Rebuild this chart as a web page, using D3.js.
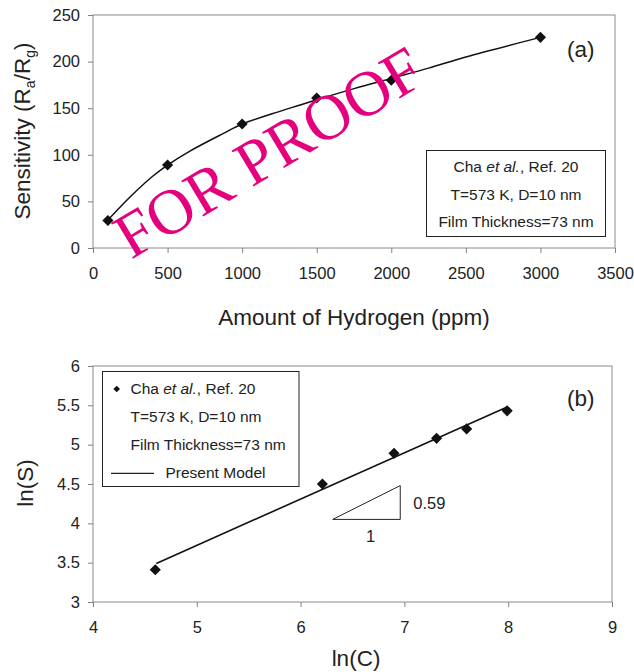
<!DOCTYPE html>
<html>
<head>
<meta charset="utf-8">
<script src="https://d3js.org/d3.v7.min.js"></script>
<style>
  body { margin: 0; background: #fff; }
  svg { display: block; font-family: Arial, "Liberation Sans", sans-serif; }
  .tick line { stroke: #808080; }
  .tick text { font-size: 16.5px; fill: #222; }
</style>
</head>
<body>
<div id="chart"></div>
<script>
//PANEL (a) DATA - SENSITIVITY VS HYDROGEN
var hydrogenPpm = [100, 500, 1000, 1500, 2000, 3000];
var sensitivity = [29.5, 89, 133, 161, 180, 226];
var curvePpm = [100, 250, 400, 500, 650, 875, 1000, 1200, 1400, 1500, 1750, 2000, 2250, 2500, 3000];
var curveSens = [30, 55, 77, 89, 104, 123, 133, 144, 154, 159, 171, 182, 193, 205, 226];
var ppmTicks = [0, 500, 1000, 1500, 2000, 2500, 3000, 3500];
var sensTicks = [0, 50, 100, 150, 200, 250];

//PANEL (b) DATA - LN-LN
var lnC = [4.6, 6.21, 6.9, 7.31, 7.6, 7.99];
var lnS = [3.41, 4.5, 4.89, 5.08, 5.2, 5.43];
var modelLnC = [4.61, 7.99];
var modelLnS = [3.49, 5.48];
var lnCTicks = [4, 5, 6, 7, 8, 9];
var lnSTicks = [3, 3.5, 4, 4.5, 5, 5.5, 6];
var slopeTriC = [6.31, 6.96];
var slopeTriS = [4.05, 4.48];

//LEGEND TEXT
var legendLines = ["T=573 K, D=10 nm", "Film Thickness=73 nm"];

var width = 634, height = 672;
var svg = d3.select("#chart").append("svg")
  .attr("width", width)
  .attr("height", height);

//DIAMOND MARKER
var diamond = d3.symbol().type(d3.symbolSquare).size(62);
var smallDiamond = d3.symbol().type(d3.symbolSquare).size(22);

function frame(g, x0, x1, y0, y1) {
  g.append("rect")
    .attr("x", x0).attr("y", y0)
    .attr("width", x1 - x0).attr("height", y1 - y0)
    .attr("fill", "none")
    .attr("stroke", "#8a8a8a")
    .attr("stroke-width", 1);
}

// ---------------- PANEL (a) ----------------
var ax = d3.scaleLinear().domain([0, 3500]).range([93, 615]);
var ay = d3.scaleLinear().domain([0, 250]).range([248, 15]);
var gA = svg.append("g");

frame(gA, 93, 615, 15, 248);

gA.append("g")
  .attr("transform", "translate(0,248)")
  .call(d3.axisBottom(ax).tickValues(ppmTicks).tickSize(5).tickPadding(14).tickFormat(d3.format("d")))
  .call(function(g){ g.select(".domain").remove(); });

gA.append("g")
  .attr("transform", "translate(93,0)")
  .call(d3.axisLeft(ay).tickValues(sensTicks).tickSize(5).tickPadding(8).tickFormat(d3.format("d")))
  .call(function(g){ g.select(".domain").remove(); });

var curveA = curvePpm.map(function(d, i){ return [d, curveSens[i]]; });
gA.append("path")
  .datum(curveA)
  .attr("fill", "none")
  .attr("stroke", "#111")
  .attr("stroke-width", 1.5)
  .attr("d", d3.line()
    .x(function(d){ return ax(d[0]); })
    .y(function(d){ return ay(d[1]); })
    .curve(d3.curveCatmullRom.alpha(0.5)));

gA.selectAll(".pt")
  .data(hydrogenPpm)
  .enter()
  .append("path")
  .attr("d", diamond)
  .attr("fill", "#111")
  .attr("transform", function(d, i){
    return "translate(" + ax(d) + "," + ay(sensitivity[i]) + ") rotate(45)";
  });

gA.append("text")
  .attr("x", 567).attr("y", 57)
  .style("font-size", "22.5px").attr("fill", "#222")
  .text("(a)");

//LEGEND BOX (a)
gA.append("rect")
  .attr("x", 426.5).attr("y", 150.5)
  .attr("width", 179).attr("height", 86)
  .attr("fill", "#fff").attr("stroke", "#222").attr("stroke-width", 1);

var l1 = gA.append("text")
  .attr("x", 516).attr("y", 172)
  .attr("text-anchor", "middle")
  .style("font-size", "15.5px").attr("fill", "#222");
l1.append("tspan").text("Cha ");
l1.append("tspan").style("font-style", "italic").text("et al.");
l1.append("tspan").text(", Ref. 20");

gA.selectAll(".leg")
  .data(legendLines)
  .enter()
  .append("text")
  .attr("x", 516)
  .attr("y", function(d, i){ return 199.5 + i * 27.5; })
  .attr("text-anchor", "middle")
  .style("font-size", "15.5px").attr("fill", "#222")
  .text(function(d){ return d; });

//AXIS TITLES (a)
gA.append("text")
  .attr("x", 354).attr("y", 325)
  .attr("text-anchor", "middle")
  .style("font-size", "22.5px").attr("fill", "#222")
  .text("Amount of Hydrogen (ppm)");

var yt = gA.append("text")
  .attr("transform", "translate(29.5,131) rotate(-90)")
  .attr("text-anchor", "middle")
  .style("font-size", "22.5px").attr("fill", "#222");
yt.append("tspan").text("Sensitivity (R");
yt.append("tspan").attr("dy", 5).style("font-size", "14px").text("a");
yt.append("tspan").attr("dy", -5).text("/R");
yt.append("tspan").attr("dy", 5).style("font-size", "14px").text("g");
yt.append("tspan").attr("dy", -5).text(")");

// ---------------- PANEL (b) ----------------
var bx = d3.scaleLinear().domain([4, 9]).range([93, 612]);
var by = d3.scaleLinear().domain([3, 6]).range([602, 366]);
var gB = svg.append("g");

frame(gB, 93, 612, 366, 602);

gB.append("g")
  .attr("transform", "translate(0,602)")
  .call(d3.axisBottom(bx).tickValues(lnCTicks).tickSize(5).tickPadding(14).tickFormat(d3.format("d")))
  .call(function(g){ g.select(".domain").remove(); });

gB.append("g")
  .attr("transform", "translate(93,0)")
  .call(d3.axisLeft(by).tickValues(lnSTicks).tickSize(5).tickPadding(8).tickFormat(d3.format("")))
  .call(function(g){ g.select(".domain").remove(); });

var modelB = modelLnC.map(function(d, i){ return [d, modelLnS[i]]; });
gB.append("path")
  .datum(modelB)
  .attr("fill", "none")
  .attr("stroke", "#111")
  .attr("stroke-width", 1.6)
  .attr("d", d3.line()
    .x(function(d){ return bx(d[0]); })
    .y(function(d){ return by(d[1]); }));

gB.selectAll(".pt")
  .data(lnC)
  .enter()
  .append("path")
  .attr("d", diamond)
  .attr("fill", "#111")
  .attr("transform", function(d, i){
    return "translate(" + bx(d) + "," + by(lnS[i]) + ") rotate(45)";
  });

//SLOPE TRIANGLE
gB.append("path")
  .attr("fill", "none")
  .attr("stroke", "#222")
  .attr("stroke-width", 1)
  .attr("d", "M" + bx(slopeTriC[0]) + "," + by(slopeTriS[0]) +
             "L" + bx(slopeTriC[1]) + "," + by(slopeTriS[0]) +
             "L" + bx(slopeTriC[1]) + "," + by(slopeTriS[1]) + "Z");

gB.append("text")
  .attr("x", bx(slopeTriC[1]) + 13).attr("y", 508.5)
  .style("font-size", "16.5px").attr("fill", "#222")
  .text("0.59");

gB.append("text")
  .attr("x", (bx(slopeTriC[0]) + bx(slopeTriC[1])) / 2 + 4).attr("y", 542)
  .attr("text-anchor", "middle")
  .style("font-size", "16.5px").attr("fill", "#222")
  .text("1");

gB.append("text")
  .attr("x", 567).attr("y", 406)
  .style("font-size", "22.5px").attr("fill", "#222")
  .text("(b)");

//LEGEND BOX (b)
gB.append("rect")
  .attr("x", 102.5).attr("y", 371.5)
  .attr("width", 196.5).attr("height", 115)
  .attr("fill", "#fff").attr("stroke", "#222").attr("stroke-width", 1);

gB.append("path")
  .attr("d", smallDiamond)
  .attr("fill", "#111")
  .attr("transform", "translate(116.7,389) rotate(45)");

var l2 = gB.append("text")
  .attr("x", 130.5).attr("y", 394)
  .style("font-size", "15.5px").attr("fill", "#222");
l2.append("tspan").text("Cha ");
l2.append("tspan").style("font-style", "italic").text("et al.");
l2.append("tspan").text(", Ref. 20");

gB.selectAll(".leg")
  .data(legendLines)
  .enter()
  .append("text")
  .attr("x", 130.5)
  .attr("y", function(d, i){ return 422 + i * 27.5; })
  .style("font-size", "15.5px").attr("fill", "#222")
  .text(function(d){ return d; });

gB.append("line")
  .attr("x1", 111).attr("x2", 154)
  .attr("y1", 473.3).attr("y2", 473.3)
  .attr("stroke", "#222").attr("stroke-width", 1.2);

gB.append("text")
  .attr("x", 165.5).attr("y", 477.5)
  .style("font-size", "15.5px").attr("fill", "#222")
  .text("Present Model");

//AXIS TITLES (b)
gB.append("text")
  .attr("x", 356).attr("y", 666)
  .attr("text-anchor", "middle")
  .style("font-size", "22.5px").attr("fill", "#222")
  .text("ln(C)");

gB.append("text")
  .attr("transform", "translate(33,483) rotate(-90)")
  .attr("text-anchor", "middle")
  .style("font-size", "22.5px").attr("fill", "#222")
  .text("ln(S)");

//WATERMARK
svg.append("text")
  .attr("transform", "translate(131,260) rotate(-31)")
  .style("font-family", "'Liberation Serif', 'Times New Roman', serif")
  .style("font-size", "64px")
  .attr("fill", "#e5007d")
  .text("FOR PROOF");
</script>
</body>
</html>
